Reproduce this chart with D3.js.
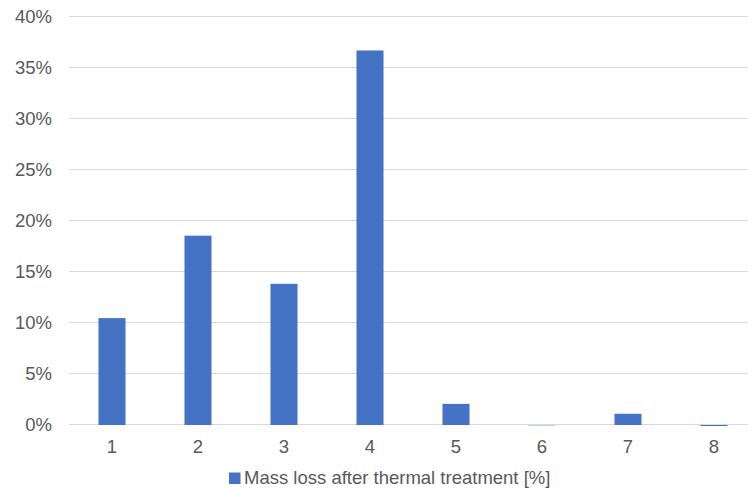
<!DOCTYPE html>
<html>
<head>
<meta charset="utf-8">
<script src="https://cdn.jsdelivr.net/npm/d3@7"></script>
<style>
  html, body { margin: 0; padding: 0; background: #fff; }
  svg { display: block; }
</style>
</head>
<body>
<svg id="chart" width="748" height="488"></svg>
<script>
// Sample numbers and measured mass loss (%) after thermal treatment
const categories = ["1", "2", "3", "4", "5", "6", "7", "8"];
const massLoss = [10.48, 18.56, 13.84, 36.72, 2.07, -0.03, 1.1, -0.1];
const yTicks = [0, 5, 10, 15, 20, 25, 30, 35, 40];
const seriesName = "Mass loss after thermal treatment [%]";

const svg = d3.select("#chart");
const font = "'Liberation Sans', Arial, sans-serif";
const fontSize = 18.5;
const textColor = "#595959";
const gridColor = "#d9d9d9";
const barColor = "#4472c4";

const x = d3.scaleBand().domain(categories).range([69, 757]).paddingInner(0.686).paddingOuter(0.343);
const y = d3.scaleLinear().domain([0, 40]).range([425, 17]);

// Horizontal gridlines
svg.append("g")
  .selectAll("line")
  .data(yTicks.filter(t => t !== 0))
  .join("line")
  .attr("x1", 69).attr("x2", 757)
  .attr("y1", d => Math.round(y(d)) - 0.5).attr("y2", d => Math.round(y(d)) - 0.5)
  .attr("stroke", gridColor).attr("stroke-width", 1);

// Y-axis labels
const yAxis = d3.axisLeft(y).tickValues(yTicks).tickSize(0).tickPadding(0).tickFormat(d => d + "%");
svg.append("g")
  .attr("transform", "translate(52,0)")
  .call(yAxis)
  .call(g => g.select(".domain").remove())
  .call(g => g.selectAll("text")
    .attr("font-family", font).attr("font-size", fontSize).attr("fill", textColor));

// Category axis
const xAxis = d3.axisBottom(x).tickSize(0).tickPadding(15);
svg.append("g")
  .attr("transform", `translate(0,${Math.round(y(0)) - 0.5})`)
  .call(xAxis)
  .call(g => g.select(".domain").attr("stroke", gridColor).attr("d", "M69,0H757"))
  .call(g => g.selectAll("text")
    .attr("font-family", font).attr("font-size", fontSize).attr("fill", textColor));

// Bars (negative values hang just below the axis line)
svg.append("g")
  .selectAll("rect")
  .data(categories.map((c, i) => ({ c, v: massLoss[i] })))
  .join("rect")
  .attr("x", d => x(d.c))
  .attr("width", x.bandwidth())
  .attr("y", d => y(Math.max(0, d.v)))
  .attr("height", d => Math.abs(y(d.v) - y(0)))
  .attr("fill", barColor);

// Legend
const legend = svg.append("g").attr("transform", "translate(229,478)");
legend.append("rect").attr("x", 0).attr("y", -5.5).attr("width", 11.5).attr("height", 11.5).attr("fill", barColor);
legend.append("text")
  .attr("x", 15).attr("y", 0).attr("dy", "0.35em")
  .attr("font-family", font).attr("font-size", fontSize).attr("fill", textColor)
  .text(seriesName);
</script>
</body>
</html>
